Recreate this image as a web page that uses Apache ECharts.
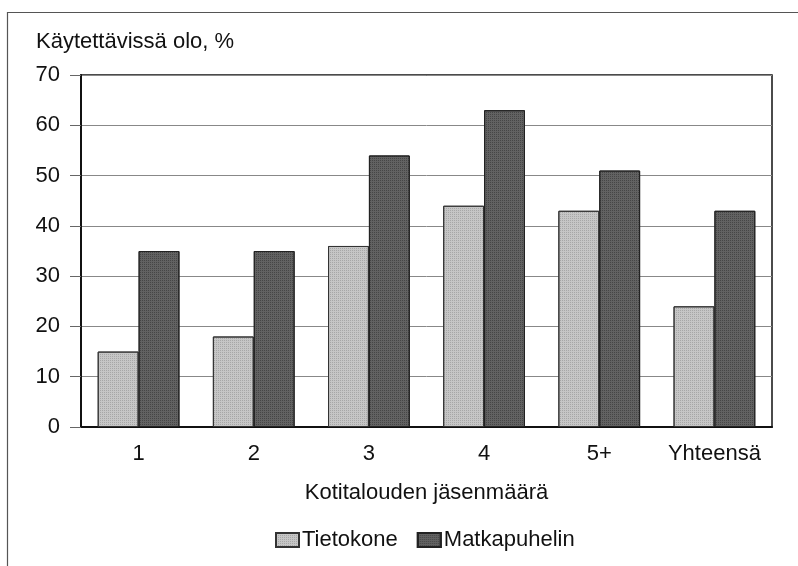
<!DOCTYPE html>
<html><head><meta charset="utf-8">
<script src="https://cdn.jsdelivr.net/npm/echarts@6/dist/echarts.min.js"></script>
<style>html,body{margin:0;padding:0;background:#fff}#c{width:798px;height:566px}</style>
</head><body><div id="c"></div>
<script>
const categories = ['1', '2', '3', '4', '5+', 'Yhteensä'];
const tietokone = [15, 18, 36, 44, 43, 24];
const matkapuhelin = [35, 35, 54, 63, 51, 43];
const yTicks = [0, 10, 20, 30, 40, 50, 60, 70];
const seriesNames = ['Tietokone', 'Matkapuhelin'];
const yAxisTitle = 'Käytettävissä olo, %';
const xAxisTitle = 'Kotitalouden jäsenmäärä';

const FONT = '"Liberation Sans", Arial, sans-serif';
const FS = 22;
const chart = echarts.init(document.getElementById('c'), null, {renderer: 'canvas'});
chart.setOption({
  animation: false,
  textStyle: {fontFamily: FONT},
  graphic: [
    {type: 'rect', left: 5, top: 10, shape: {width: 820, height: 600}, style: {fill: 'none', stroke: '#555', lineWidth: 1.2}, z: -1},
    {type: 'text', left: 36, top: 31, style: {text: yAxisTitle, font: FS + 'px ' + FONT, fill: '#111'}}
  ],
  grid: {left: 81, right: 26, top: 75, bottom: 139, show: true, borderColor: '#111', borderWidth: 1.5, backgroundColor: 'transparent'},
  legend: {
    top: 524, left: 270, itemGap: 19, itemWidth: 23, itemHeight: 14, icon: 'rect',
    textStyle: {fontSize: FS, color: '#111', fontFamily: FONT, padding: [0, 0, 0, -2]},
    data: seriesNames
  },
  xAxis: {
    type: 'category', data: categories,
    name: xAxisTitle, nameLocation: 'middle', nameGap: 55,
    nameTextStyle: {fontSize: FS, color: '#111', fontFamily: FONT},
    axisLine: {lineStyle: {color: '#111', width: 2}},
    axisTick: {show: false},
    axisLabel: {fontSize: FS, color: '#111', margin: 16, fontFamily: FONT, interval: 0}
  },
  yAxis: {
    type: 'value', min: yTicks[0], max: yTicks[yTicks.length - 1], interval: 10,
    axisLine: {show: true, lineStyle: {color: '#111', width: 2}},
    axisTick: {show: true, length: 11, lineStyle: {color: '#666', width: 1}},
    axisLabel: {fontSize: FS, color: '#111', margin: 21, fontFamily: FONT},
    splitLine: {lineStyle: {color: '#888', width: 1}}
  },
  series: [
    {name: seriesNames[0], type: 'bar', data: tietokone, barGap: '0%', barCategoryGap: '29%',
     itemStyle: {color: '#c6c6c6', borderColor: '#333', borderWidth: 1,
       decal: {symbol: 'rect', symbolSize: 1, dashArrayX: [1, 1], dashArrayY: [1, 1], color: 'rgba(110,110,110,0.35)', rotation: 0}}},
    {name: seriesNames[1], type: 'bar', data: matkapuhelin,
     itemStyle: {color: '#626262', borderColor: '#222', borderWidth: 1,
       decal: {symbol: 'rect', symbolSize: 1, dashArrayX: [1, 1], dashArrayY: [1, 1], color: 'rgba(20,20,20,0.35)', rotation: 0}}}
  ]
});
</script></body></html>
